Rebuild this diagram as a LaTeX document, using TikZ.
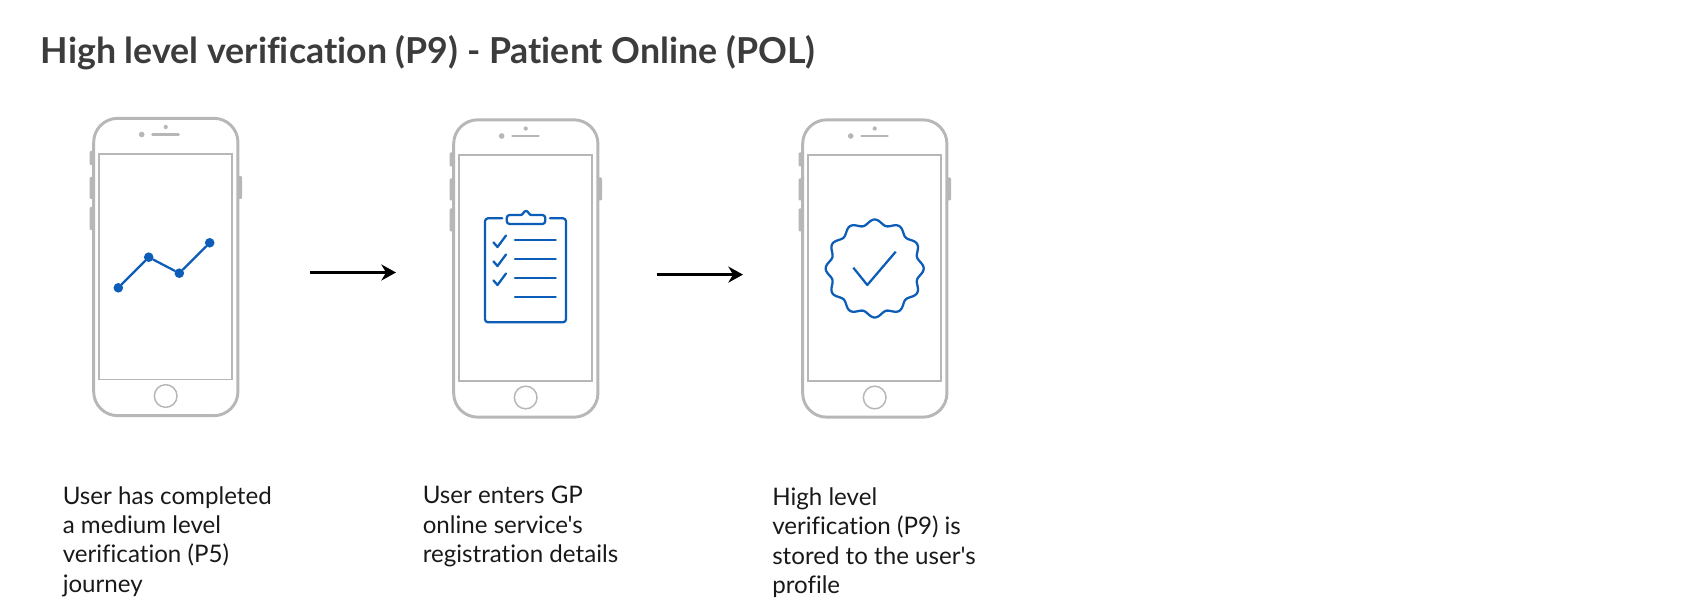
\documentclass[tikz,border=0pt]{standalone}
\usepackage{fontspec}
\setmainfont{Lato}[Ligatures=NoCommon]
\newfontfamily\captionfont{Lato}[Ligatures=NoCommon]
\usepackage{xcolor}
\usepackage{tikz}
\usetikzlibrary{arrows.meta, calc}
\definecolor{phonegray}{HTML}{B7B7B7}
\definecolor{iconblue}{HTML}{0B5DB8}
\definecolor{titlegray}{HTML}{3C3C3C}

\begin{document}
\begin{tikzpicture}[
    x=0.75pt, y=-0.75pt,
    >=Stealth,
    phone/.style={rectangle, draw=phonegray, line width=2.2pt, rounded corners=18pt, fill=white,
                  minimum width=108.2pt, minimum height=223pt, inner sep=0pt},
    screen/.style={rectangle, draw=phonegray, line width=1.3pt,
                   minimum width=99.6pt, minimum height=169.4pt, inner sep=0pt},
    homekey/.style={circle, draw=phonegray, line width=1.1pt, minimum size=17pt, inner sep=0pt},
    caption/.style={anchor=north west, align=left, font=\captionfont\fontsize{18.1}{22.1}\selectfont,
                    text=black!90, inner sep=0pt},
    flow/.style={->, line width=2.2pt, >={Stealth[length=11pt, width=12pt]}},
    icon/.style={draw=iconblue, line width=1.7pt, line cap=round, line join=round},
    dot/.style={circle, fill=iconblue, minimum size=7.2pt, inner sep=0pt}
]
\useasboundingbox (0,0) rectangle (1681,616);
\node[anchor=west, inner sep=0pt, text=titlegray, font=\fontsize{26.8}{30}\selectfont\bfseries]
    (title) at (40.5,53) {High level verification (P9) - Patient Online (POL)};

\foreach \name/\dx/\dy in {phoneA/0/1, phoneB/360/2.5, phoneC/709/2.5} {
\begin{scope}[shift={(\dx,\dy)}]
    \foreach \ya/\yb in {150/164, 176/198, 206/229} {
        \fill[phonegray, rounded corners=0.8pt] (89.5,\ya) rectangle (94,\yb);
    }
    \fill[phonegray, rounded corners=0.8pt] (237,175) rectangle (242,198);
    \node[phone] (\name) at (165.8,266) {};
    \node[screen] (\name screen) at (165.7,265.7) {};
    \node[homekey] (\name key) at (165.7,395) {};
    \fill[phonegray] (141.7,133.5) circle (2.1pt);
    \fill[phonegray] (165.7,126) circle (1.6pt);
    \draw[phonegray, line width=2pt, line cap=round] (152.5,133.5) -- (178.5,133.5);
\end{scope}
}

% line chart
\node[dot] (ptA) at (118.3,287.8) {};
\node[dot] (ptB) at (148.7,257.2) {};
\node[dot] (ptC) at (179.3,273.2) {};
\node[dot] (ptD) at (209.7,242.8) {};
\draw[icon] (ptA) -- (ptB) -- (ptC) -- (ptD);

% clipboard
\begin{scope}[shift={(0,1)}]
\draw[icon] (502.3,217.3) -- (488,217.3) to[out=180, in=90] (485,220.3) -- (485,318.3)
    to[out=-90, in=180] (488,321.3) -- (563,321.3) to[out=0, in=-90] (566,318.3)
    -- (566,220.3) to[out=90, in=0] (563,217.3) -- (550,217.3);
\draw[icon, rounded corners=2.2pt] (506.7,214) rectangle (545.3,223);
\fill[white] (521,212) rectangle (531,216);
\draw[icon] (521,214) .. controls (523,214) and (523.5,210) .. (526,210)
    .. controls (528.5,210) and (529,214) .. (531,214);
\foreach \y in {0, 19, 38} {
    \draw[icon] (493.5,241.5+\y) -- (497.5,246+\y) -- (506,234.5+\y);
}
\foreach \y in {239.3, 258.3, 277.3, 296.3} {
    \draw[icon] (515,\y) -- (555.7,\y);
}

% badge
\draw[icon] plot[smooth, samples=241, domain=0:360, variable=\t]
    ({874.7+(46.4+2.6*cos(12*\t))*cos(\t)}, {267.5+(46.4+2.6*cos(12*\t))*sin(\t)}) -- cycle;
\draw[icon, line cap=butt] (853.3,266.7) -- (867.3,284) -- (895.7,250.7);
\end{scope}

% arrows
\coordinate (flowA) at (310,272.5);
\coordinate (flowB) at (396,272.5);
\coordinate (flowC) at (656.5,274.6);
\coordinate (flowD) at (743,274.6);
\draw[flow] (flowA) -- (flowB);
\draw[flow] (flowC) -- (flowD);

\node[caption] (textA) at (62.5,486) {User has completed\\a medium level\\verification (P5)\\journey};
\node[caption] (textB) at (422.5,486) {User enters GP\\online service's\\registration details};
\node[caption] (textC) at (772,487.3) {High level\\verification (P9) is\\stored to the user's\\profile};
\end{tikzpicture}
\end{document}
